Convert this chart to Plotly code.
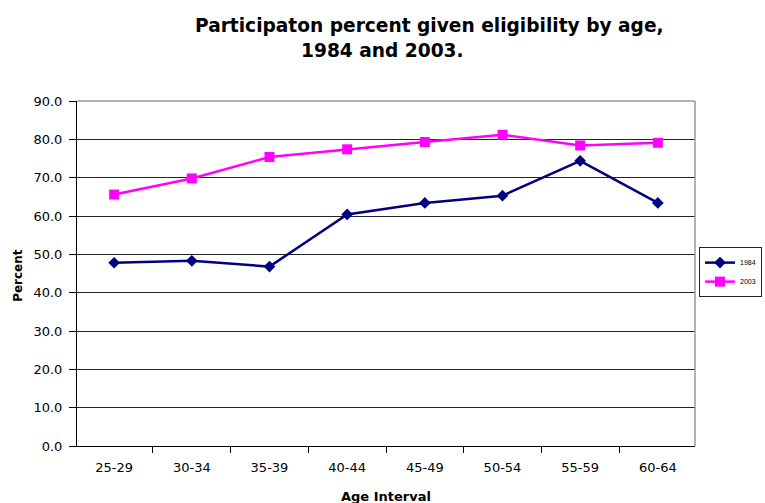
import plotly.graph_objects as go

# Age bands and participation rates (percent of eligible workers)
age_intervals = ["25-29", "30-34", "35-39", "40-44", "45-49", "50-54", "55-59", "60-64"]
rate_1984 = [47.8, 48.3, 46.8, 60.4, 63.4, 65.3, 74.4, 63.4]
rate_2003 = [65.6, 69.8, 75.4, 77.4, 79.3, 81.2, 78.4, 79.1]
y_ticks = [0, 10, 20, 30, 40, 50, 60, 70, 80, 90]

FONT = "DejaVu Sans, Arial, sans-serif"
GRID = "#222222"

fig = go.Figure()
fig.add_trace(go.Scatter(
    x=age_intervals, y=rate_1984, name="1984", mode="lines+markers",
    line=dict(color="#000080", width=2.5),
    marker=dict(symbol="diamond", size=9, color="#000080"),
))
fig.add_trace(go.Scatter(
    x=age_intervals, y=rate_2003, name="2003", mode="lines+markers",
    line=dict(color="#FF00FF", width=2.5),
    marker=dict(symbol="square", size=10, color="#FF00FF"),
))

fig.update_layout(
    width=765, height=503,
    margin=dict(l=77, r=70, t=101, b=57, autoexpand=False),
    paper_bgcolor="white", plot_bgcolor="white",
    font=dict(family=FONT, color="#000000", size=12),
    showlegend=True,
    legend=dict(
        x=1.0065, y=0.504, xanchor="left", yanchor="middle",
        bgcolor="white", bordercolor="#222222", borderwidth=1,
        font=dict(size=7, family="Liberation Sans, Arial, sans-serif"),
        itemwidth=30, tracegroupgap=0,
    ),
    xaxis=dict(
        type="category", tickson="boundaries", ticks="outside", ticklen=6,
        tickcolor="#000000", showline=True, linecolor="#000000", linewidth=1,
        showgrid=False, tickfont=dict(size=13, family=FONT), zeroline=False,
        ticklabelstandoff=9,
    ),
    yaxis=dict(
        range=[0, 90], tickvals=y_ticks, tickformat=".1f", ticks="outside",
        ticklen=7, tickcolor="#000000", showline=True, linecolor="#000000",
        linewidth=1, showgrid=True, gridcolor=GRID, gridwidth=1,
        zeroline=False, tickfont=dict(size=13, family=FONT),
        ticklabelstandoff=4,
    ),
    shapes=[
        dict(type="line", xref="paper", yref="paper", x0=0, x1=1, y0=1, y1=1,
             line=dict(color="#999999", width=1.5), layer="above"),
        dict(type="line", xref="paper", yref="paper", x0=1, x1=1, y0=0, y1=1,
             line=dict(color="#999999", width=1.5), layer="above"),
    ],
    annotations=[
        dict(text="<b>Participaton percent given eligibility by age,</b>",
             xref="paper", yref="paper", x=0.571, y=1.0, yshift=76,
             xanchor="center", yanchor="middle", showarrow=False,
             font=dict(size=18.6, family=FONT)),
        dict(text="<b>1984 and 2003.</b>",
             xref="paper", yref="paper", x=0.495, y=1.0, yshift=51,
             xanchor="center", yanchor="middle", showarrow=False,
             font=dict(size=18.6, family=FONT)),
        dict(text="<b>Percent</b>", textangle=-90,
             xref="paper", yref="paper", x=-0.0955, y=0.496,
             xanchor="center", yanchor="middle", showarrow=False,
             font=dict(size=12, family=FONT)),
        dict(text="<b>Age Interval</b>",
             xref="paper", yref="paper", x=0.5, y=0, yshift=-50,
             xanchor="center", yanchor="middle", showarrow=False,
             font=dict(size=13, family=FONT)),
    ],
)

fig.write_html("out.html")
